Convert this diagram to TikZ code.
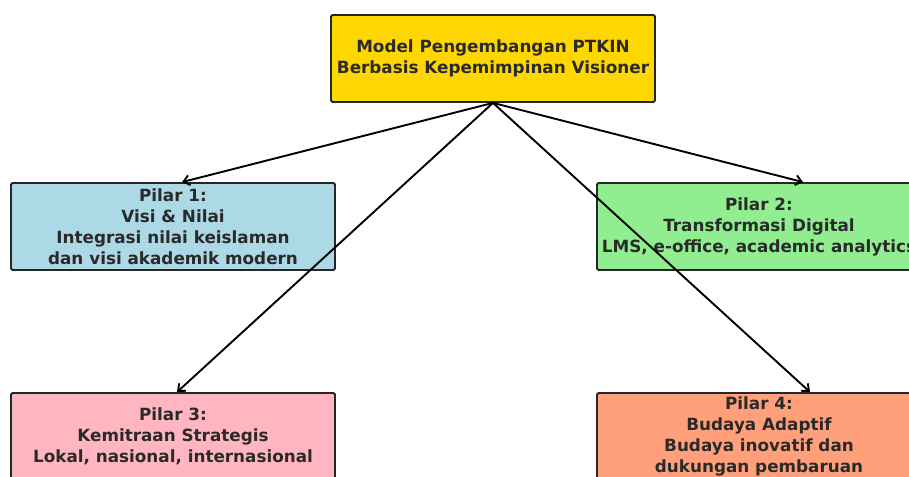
\documentclass[tikz,border=0pt]{standalone}
\usepackage{fontspec}
\setmainfont{DejaVu Sans}
\usetikzlibrary{arrows.meta,calc}
\definecolor{gold}{HTML}{FFD700}
\definecolor{lblue}{HTML}{ADD8E6}
\definecolor{lgreen}{HTML}{90EE90}
\definecolor{lpink}{HTML}{FFB6C1}
\definecolor{lsalmon}{HTML}{FFA07A}
\definecolor{txt}{HTML}{2A2A2A}
\begin{document}
\begin{tikzpicture}[x=1pt,y=-1pt,
  box/.style={draw=black!85, line width=1.8pt, rounded corners=1.5pt, minimum width=324pt, minimum height=87pt, align=center, inner sep=0pt, text=txt, font=\fontsize{16.8}{21}\selectfont\bfseries},
  conn/.style={line width=1.9pt, -{Straight Barb[length=6pt,width=10pt,line width=1.9pt]}}]
\useasboundingbox (0,0) rectangle (909,476);
\node[box, fill=gold] (top) at (493,58.5) {Model Pengembangan PTKIN\\Berbasis Kepemimpinan Visioner};
\node[box, fill=lblue] (p1) at (173,226.5) {Pilar 1:\\Visi \& Nilai\\Integrasi nilai keislaman\\dan visi akademik modern};
\node[box, fill=lgreen] (p2) at (759,226.5) {Pilar 2:\\Transformasi Digital\\LMS, e-office, academic analytics};
\node[box, fill=lpink] (p3) at (173,436.5) {Pilar 3:\\Kemitraan Strategis\\Lokal, nasional, internasional};
\node[box, fill=lsalmon] (p4) at (759,436.5) {Pilar 4:\\Budaya Adaptif\\Budaya inovatif dan\\dukungan pembaruan};
\draw[conn] (top.south) -- ($(p1.north)+(9,0)$);
\draw[conn] (top.south) -- ($(p2.north)+(44,0)$);
\draw[conn] (top.south) -- ($(p3.north)+(4,0)$);
\draw[conn] (top.south) -- ($(p4.north)+(51,0)$);
\end{tikzpicture}
\end{document}
